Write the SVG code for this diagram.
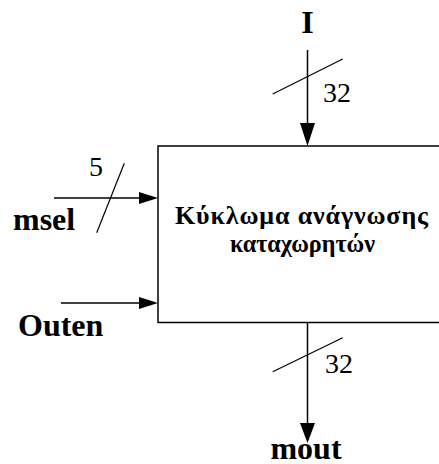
<svg xmlns="http://www.w3.org/2000/svg" width="439" height="464" viewBox="0 0 439 464">
  <style>
    .wire { stroke: #000; stroke-width: 1.5; fill: none; }
    .tick { stroke: #000; stroke-width: 1.2; fill: none; }
    .head { fill: #000; stroke: none; }
    text { font-family: "Liberation Serif", "Times New Roman", serif; fill: #000; }
    .lbl { font-weight: bold; font-size: 32px; }
    .num { font-size: 28px; }
    .title { font-weight: bold; font-size: 26px; }
  </style>
  <rect width="439" height="464" fill="#fff"/>

  <!-- register read circuit block (runs off the right edge) -->
  <g id="block">
    <rect x="158" y="146" width="300" height="176.5" class="wire"/>
    <text class="title" x="175" y="224" textLength="253" lengthAdjust="spacing">Κύκλωμα ανάγνωσης</text>
    <text class="title" x="230" y="252" textLength="145" lengthAdjust="spacingAndGlyphs">καταχωρητών</text>
  </g>

  <g id="label-I"><text class="lbl" x="307.5" y="33" text-anchor="middle">I</text></g>
  <g id="label-msel"><text class="lbl" x="13" y="230">msel</text></g>
  <g id="label-outen"><text class="lbl" x="18" y="336">Outen</text></g>
  <g id="label-mout"><text class="lbl" x="306" y="459" text-anchor="middle">mout</text></g>

  <g id="connectors">
    <!-- I input, 32 bits -->
    <line class="wire" x1="307.5" y1="50" x2="307.5" y2="124"/>
    <polygon class="head" points="300,123 315,123 307.5,146"/>
    <line class="tick" x1="272.7" y1="94" x2="342.7" y2="59"/>
    <text class="num" x="323" y="102">32</text>

    <!-- msel input, 5 bits -->
    <line class="wire" x1="54" y1="198" x2="140" y2="198"/>
    <polygon class="head" points="139,192 139,204 158,198"/>
    <line class="tick" x1="124.3" y1="163.3" x2="96.7" y2="232.7"/>
    <text class="num" x="89" y="176">5</text>

    <!-- Outen input -->
    <line class="wire" x1="61" y1="303" x2="140" y2="303"/>
    <polygon class="head" points="139,297 139,309 158,303"/>

    <!-- mout output, 32 bits -->
    <line class="wire" x1="307.5" y1="322.5" x2="307.5" y2="424"/>
    <polygon class="head" points="300,423 315,423 307.5,443"/>
    <line class="tick" x1="272.7" y1="371.7" x2="342.7" y2="337.7"/>
    <text class="num" x="325" y="373">32</text>
  </g>
</svg>
